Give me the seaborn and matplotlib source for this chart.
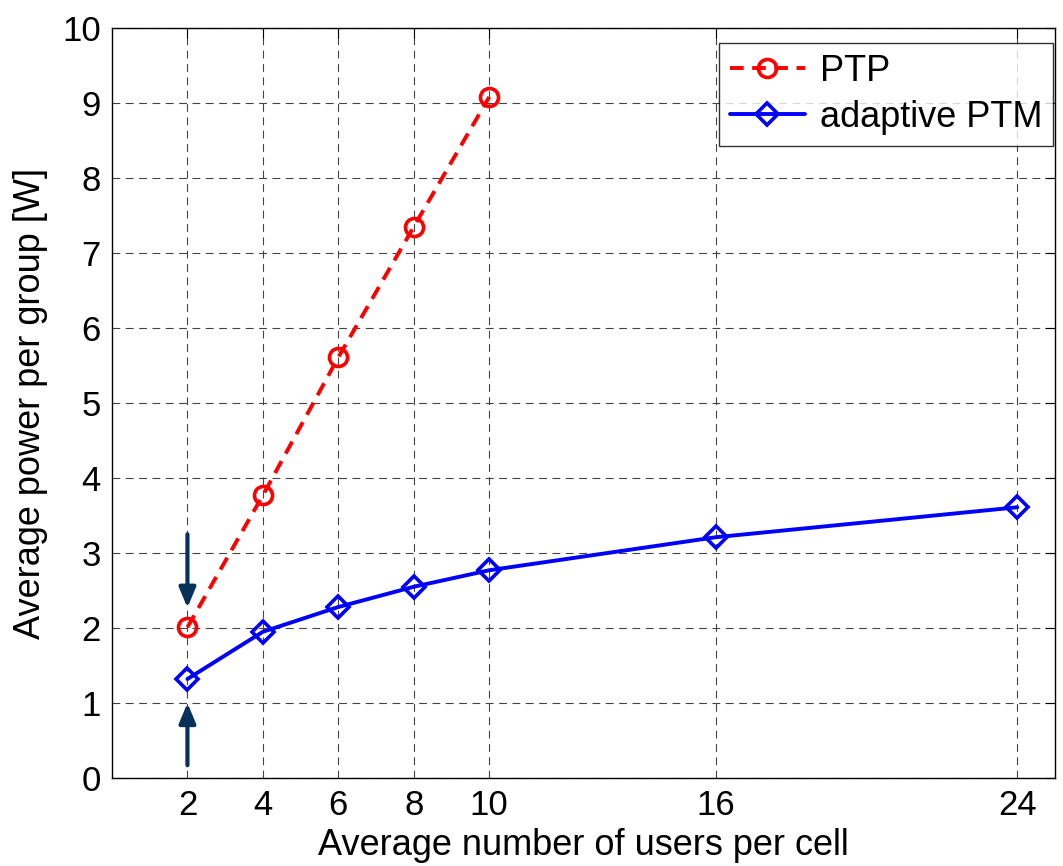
import matplotlib
matplotlib.use("Agg")
import matplotlib.pyplot as plt
import seaborn as sns
import pandas as pd

ptp_x = [2, 4, 6, 8, 10]
ptp_y = [2.01, 3.77, 5.61, 7.35, 9.08]
ptm_x = [2, 4, 6, 8, 10, 16, 24]
ptm_y = [1.32, 1.95, 2.28, 2.55, 2.77, 3.21, 3.61]
xticks = [2, 4, 6, 8, 10, 16, 24]
yticks = list(range(0, 11))

sns.set_style("white")
plt.rcParams['font.family'] = ['Liberation Sans', 'DejaVu Sans']
plt.rcParams.update({"text.color": "black", "axes.labelcolor": "black",
                     "xtick.color": "black", "ytick.color": "black"})

fig = plt.figure(figsize=(10.63, 8.66), dpi=100)
ax = fig.add_axes([112/1063, 1 - 778/866, (1055-112)/1063, (778-28)/866])

df1 = pd.DataFrame({"x": ptp_x, "y": ptp_y})
df2 = pd.DataFrame({"x": ptm_x, "y": ptm_y})
sns.lineplot(data=df1, x="x", y="y", ax=ax, color="red", linestyle=(0, (3.5, 2.2)), lw=2.8,
             marker="o", markersize=13, markerfacecolor="none", markeredgecolor="red",
             markeredgewidth=2.6, label="PTP")
sns.lineplot(data=df2, x="x", y="y", ax=ax, color="blue", linestyle="-", lw=2.8,
             marker="D", markersize=11, markerfacecolor="none", markeredgecolor="blue",
             markeredgewidth=2.6, label="adaptive PTM")

arrow_col = "#06325a"
aprops = dict(arrowstyle="-|>,head_length=0.6,head_width=0.25", color=arrow_col, lw=3,
              mutation_scale=20, shrinkA=0, shrinkB=0)
ax.annotate("", xy=(2, 2.27), xytext=(2, 3.25), arrowprops=aprops)
ax.annotate("", xy=(2, 1.0), xytext=(2, 0.17), arrowprops=aprops)

ax.set_xlim(0, 25)
ax.set_ylim(0, 10)
ax.set_xticks(xticks)
ax.set_yticks(yticks)
ax.tick_params(axis="both", labelsize=25, direction="in", top=True, right=True,
               length=7, width=0.8, pad=8)
ax.grid(True, color="#444444", linestyle=(0, (7, 5)), linewidth=0.8)
for s in ax.spines.values():
    s.set_color("black")
    s.set_linewidth(1)
ax.set_xlabel("Average number of users per cell", fontsize=26, labelpad=4)
ax.set_ylabel("Average power per group [W]", fontsize=26, labelpad=10)

leg = ax.legend(loc="upper right", bbox_to_anchor=(0.998, 0.98), fontsize=26, frameon=True,
                fancybox=False, edgecolor="black", handlelength=2.1, handletextpad=0.4,
                borderaxespad=0.0, labelspacing=0.3, borderpad=0.3)
leg.get_frame().set_linewidth(1)

fig.savefig("out.png", dpi=100)
